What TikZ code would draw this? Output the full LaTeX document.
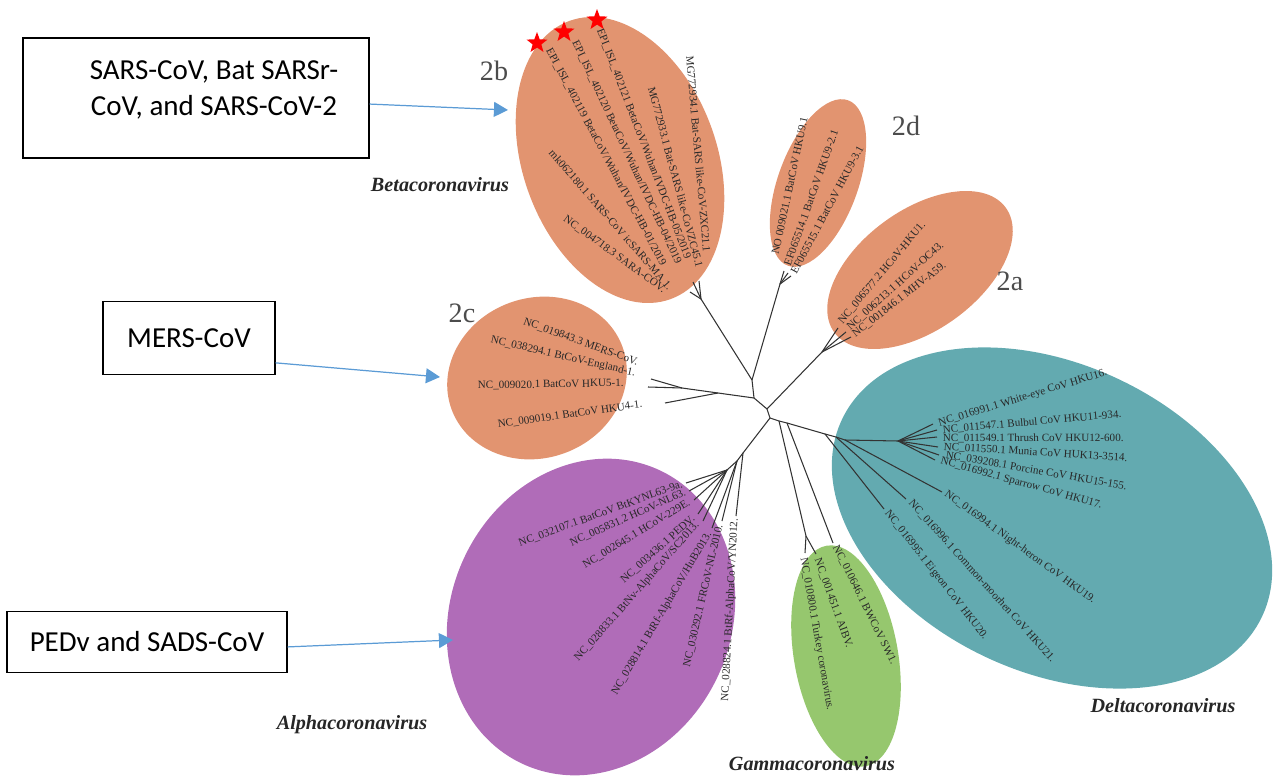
\documentclass[tikz,border=0pt]{standalone}
\usepackage{fontspec}
\setmainfont{Liberation Serif}
\newfontfamily\calfont{Carlito}
\usepackage{tikz}
\usetikzlibrary{arrows.meta,shapes.geometric}
\definecolor{betac}{RGB}{226,148,112}
\definecolor{deltac}{RGB}{99,170,176}
\definecolor{alphac}{RGB}{176,108,184}
\definecolor{gammac}{RGB}{150,199,110}
\definecolor{arrc}{RGB}{91,155,213}
\definecolor{txtc}{RGB}{40,40,40}

\begin{document}
\begin{tikzpicture}[x=0.02cm,y=-0.02cm,
  br/.style={draw=black!80,line width=0.6pt},
  leaf/.style={font=\fontsize{6.3}{7}\selectfont,text=txtc,inner sep=0.3pt},
  clade/.style={font=\fontsize{16}{18}\selectfont,text=black!70},
  genus/.style={font=\fontsize{11.5}{13}\selectfont\bfseries\itshape,text=black!85},
  cbox/.style={draw,line width=0.8pt,inner sep=0pt},
  cboxtxt/.style={font=\calfont\fontsize{16.5}{20}\selectfont,align=center},
  callout/.style={arrc,line width=0.7pt,-{Triangle[length=8pt,width=8.5pt]}},
  redstar/.style={star,star points=5,star point ratio=2.4,fill=red,draw=none,inner sep=0pt,minimum size=0.44cm}]
  \useasboundingbox (0,0) rectangle (1275,781);

  % clade ellipses
  \fill[betac] (620,160) ellipse [x radius=148, y radius=97, rotate=110];
  \fill[betac] (818,183) ellipse [x radius=88, y radius=40, rotate=70];
  \fill[betac] (920,270) ellipse [x radius=106, y radius=60, rotate=36];
  \fill[betac] (537,378) ellipse [x radius=91, y radius=80, rotate=20];
  \fill[deltac] (1052,518) ellipse [x radius=232, y radius=154, rotate=-25];
  \fill[alphac] (591,617) ellipse [x radius=162, y radius=140, rotate=65];
  \fill[gammac] (846,656) ellipse [x radius=112, y radius=52, rotate=100];

  % tree: junctions and tips
  \foreach \n/\x/\y in {rt/767/409, j1/754/398, j2c/718/393, j2cb/682/388, j2/752/380,
      j2b/701/299, j2d/780/284, j2a/822/352, jd/770/418,
      jg1/779/421, jg2/787/423, jdl1/825/434, jdl2/836/437, jdl3/845/440, jdl4/898/441,
      jg3/806/536, ja1/743/453, ja2/737/461, ja3/727/470,
      c1/651/379, c2/648/387, c3/665/403,
      b1/690/292, b2/693/282, b3/699/281,
      d1/784/271, d2/788/273, d3/791/276,
      a1/838/328, a2/846/332, a3/851/337,
      dl1/933/424, dl2/937/430, dl3/937/437, dl4/938/447, dl5/939/455, dl6/935/460,
      nh/942/492, moor/906/499, eig/884/509,
      g1/833/543, g2/816/554, g3/805/553,
      al1/686/483, al2/689/491, al3/694/500, al4/698/514, al5/703/521, al6/712/528, al7/722/521, al8/736/516}
    \coordinate (\n) at (\x,\y);
  \foreach \a/\b in {rt/j1, j1/j2c, j2c/j2cb, j2cb/c1, j2cb/c2, j2c/c3,
      j1/j2, j2/j2b, j2b/b1, j2b/b2, j2b/b3, j2/j2d, j2d/d1, j2d/d2, j2d/d3,
      rt/j2a, j2a/a1, j2a/a2, j2a/a3, rt/jd,
      jd/jg1, jg1/jg2, jg2/jdl1, jdl1/jdl2, jdl2/jdl3, jdl3/jdl4,
      jdl4/dl1, jdl4/dl2, jdl4/dl3, jdl4/dl4, jdl4/dl5, jdl4/dl6,
      jdl3/nh, jdl2/moor, jdl1/eig,
      jg1/jg3, jg3/g2, jg3/g3, jg2/g1,
      jd/ja1, ja1/al8, ja1/ja2, ja2/al7, ja2/al6, ja2/ja3,
      ja3/al1, ja3/al2, ja3/al3, ja3/al4, ja3/al5}
    \draw[br] (\a) -- (\b);

  % 2b
  \foreach \x/\y/\r/\t [count=\i] in {
      664/266/-62/{EPI\_ISL\_402119 BetaCoV/Wuhan/IVDC-HB-01/2019},
      679/264/-65/{EPI\_ISL\_402120 BetaCoV/Wuhan/IVDC-HB-04/2019},
      688/259/-69/{EPI\_ISL\_402121 BetaCoV/Wuhan/IVDC-HB-05/2019},
      700/268/-75/{MG772933.1 Bat-SARS like-CoVZC45.1},
      707/253/-85/{MG772934.1 Bat-SARS like-CoV-ZXC21.1},
      671/289/-49/{mk062180.1 SARS-CoV icSARS-MA 1.},
      665/291/-36/{NC\_004718.3 SARA-COV.}}
    \node[leaf,anchor=east,rotate=\r] (lb\i) at (\x,\y) {\t};
  % 2d
  \foreach \x/\y/\r/\t [count=\i] in {
      775/255/78/{NO 009021.1 BatCoV HKU9.1},
      787/266/70.5/{EF065514.1 BatCoV HKU9-2.1},
      793/274/62/{EF065515.1 BatCoV HKU9-3.1}}
    \node[leaf,anchor=west,rotate=\r] (ld\i) at (\x,\y) {\t};
  % 2a
  \foreach \x/\y/\r/\t [count=\i] in {
      840/323/50/{NC\_006577.2 HCoV-HKU1.},
      848/329/42/{NC\_006213.1 HCoV-OC43.},
      853/336/38/{NC\_001846.1 MHV-A59.}}
    \node[leaf,anchor=west,rotate=\r] (la\i) at (\x,\y) {\t};
  % 2c
  \foreach \x/\y/\r/\t [count=\i] in {
      523/321/-20/{NC\_019843.3 MERS-CoV.},
      490/340/-13/{NC\_038294.1 BtCoV-England-1.},
      477/386/1/{NC\_009020.1 BatCoV HKU5-1.},
      497/425/8/{NC\_009019.1 BatCoV HKU4-1.}}
    \node[leaf,anchor=west,rotate=\r] (lc\i) at (\x,\y) {\t};
  % delta
  \foreach \x/\y/\r/\t [count=\i] in {
      938/424/17/{NC\_016991.1 White-eye CoV HKU16.},
      942/430/5/{NC\_011547.1 Bulbul CoV HKU11-934.},
      942/438/0/{NC\_011549.1 Thrush CoV HKU12-600.},
      943/447/-3.5/{NC\_011550.1 Munia CoV HUK13-3514.},
      945/455/-10/{NC\_039208.1 Porcine CoV HKU15-155.},
      940/461/-15.5/{NC\_016992.1 Sparrow CoV HKU17.},
      945/493/-36/{NC\_016994.1 Night-heron CoV HKU19.},
      910/501/-48/{NC\_016996.1 Common-moorhen CoV HKU21.},
      886/511/-52/{NC\_016995.1 Eigeon CoV HKU20.}}
    \node[leaf,anchor=west,rotate=\r] (ldl\i) at (\x,\y) {\t};
  % alpha
  \foreach \x/\y/\r/\t [count=\i] in {
      683/484/20/{NC\_032107.1 BatCoV BtKYNL63-9a.},
      686/492/24/{NC\_005831.2 HCoV-NL63.},
      690/502/31/{NC\_002645.1 HCoV-229E.},
      694/517/42/{NC\_003436.1 PEDV.},
      698/523/48.5/{NC\_028833.1 BtNv-AlphaCoV/SC2013.},
      710/532/59.5/{NC\_028814.1 BtRf-AlphaCoV/HuB2013.},
      720/524/77/{NC\_030292.1 FRCoV-NL-2010.},
      735/518/87/{NC\_028824.1 BtRf-AlphaCoV/YN2012.}}
    \node[leaf,anchor=east,rotate=\r] (lal\i) at (\x,\y) {\t};
  % gamma
  \foreach \x/\y/\r/\t [count=\i] in {
      835/545/-63.6/{NC\_010646.1 BWCoV SW1.},
      817/558/-70/{NC\_001451.1 AIBV.},
      803/557/-80/{NC\_010800.1 Turkey coronavirus.}}
    \node[leaf,anchor=west,rotate=\r] (lg\i) at (\x,\y) {\t};

  \node[clade] (c2b) at (494,71) {2b};
  \node[clade] (c2d) at (906,126) {2d};
  \node[clade] (c2a) at (1010,281) {2a};
  \node[clade] (c2c) at (462,313) {2c};
  \node[genus] (gbeta) at (440,185) {Betacoronavirus};
  \node[genus] (galpha) at (352,725) {Alphacoronavirus};
  \node[genus] (ggamma) at (812,764) {Gammacoronavirus};
  \node[genus] (gdelta) at (1163,706) {Deltacoronavirus};

  \node[redstar] (st1) at (537,43) {};
  \node[redstar] (st2) at (564,32) {};
  \node[redstar] (st3) at (597,20) {};

  % call-out boxes
  \node[cbox,minimum width=6.92cm,minimum height=2.4cm] (sarsbox) at (196,98) {};
  \node[cboxtxt] (sarstxt) at (214,90) {SARS-CoV, Bat SARSr-\\CoV, and SARS-CoV-2};
  \node[cbox,cboxtxt,minimum width=3.44cm,minimum height=1.46cm] (mersbox) at (189,338) {MERS-CoV};
  \node[cbox,cboxtxt,minimum width=5.6cm,minimum height=1.22cm] (pedbox) at (147,642) {PEDv and SADS-CoV};
  \coordinate (sarstip) at (508,110);
  \coordinate (merstip) at (440,377);
  \coordinate (pedtip) at (453,640);
  \draw[callout] (sarsbox.-2) -- (sarstip);
  \draw[callout] (mersbox.-16) -- (merstip);
  \draw[callout] (pedbox.-2) -- (pedtip);
\end{tikzpicture}
\end{document}
